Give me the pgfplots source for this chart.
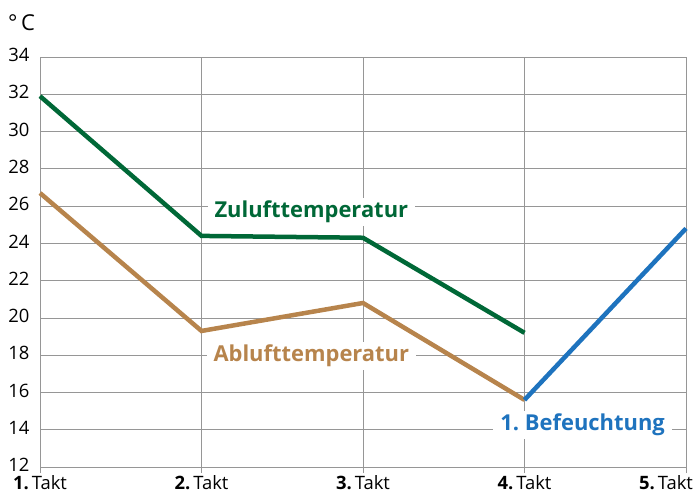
\documentclass[border=0pt]{standalone}
\usepackage{fontspec}
\setmainfont{Open Sans}
\usepackage{pgfplots}
\pgfplotsset{compat=1.18}
\definecolor{zgreen}{RGB}{0,104,55}
\definecolor{abrown}{RGB}{183,132,76}
\definecolor{bblue}{RGB}{30,115,190}
\definecolor{gridgray}{RGB}{150,150,150}
\begin{document}
\begin{tikzpicture}
\path[use as bounding box] (-40bp,-28bp) rectangle (655bp,467bp);
\begin{axis}[
  scale only axis, width=646bp, height=410bp,
  xmin=1, xmax=5, ymin=12, ymax=34,
  axis x line=bottom, axis y line=left,
  axis line style={-, gridgray, line width=0.8bp},
  xtick={1,2,3,4,5},
  xticklabels={{\textbf{1.}\,Takt},{\textbf{2.}\,Takt},{\textbf{3.}\,Takt},{\textbf{4.}\,Takt},{\makebox[0pt][r]{\textbf{5.}\,Takt\kern-7bp}}},
  ytick={12,14,...,34},
  grid=major, major grid style={gridgray, line width=0.8bp},
  x tick style={gridgray, line width=0.8bp}, major tick length=6bp,
  tick align=outside,
  y tick style={draw=none},
  ticklabel style={font=\fontsize{18.5}{20}\selectfont},
  yticklabel style={yshift=2bp, xshift=-1bp},
  xticklabel style={yshift=1bp},
  /pgf/number format/assume math mode=true,
  clip=false,
]
\addplot[zgreen, line width=4.5bp] coordinates {(1,31.9) (2,24.4) (3,24.3) (4,19.2)};
\addplot[abrown, line width=4.5bp] coordinates {(1,26.7) (2,19.3) (3,20.8) (4,15.6)};
\addplot[bblue, line width=4.5bp] coordinates {(4,15.6) (5,24.8)};
\node[fill=white, inner xsep=7bp, inner ysep=3bp, text=zgreen, font=\fontsize{22}{24}\selectfont\bfseries] at (axis cs:2.68,25.7) {Zulufttemperatur};
\node[fill=white, inner xsep=7bp, inner ysep=3bp, text=abrown, font=\fontsize{22}{24}\selectfont\bfseries] at (axis cs:2.68,17.95) {Ablufttemperatur};
\node[fill=white, inner xsep=7bp, inner ysep=3bp, text=bblue, font=\fontsize{22}{24}\selectfont\bfseries] at (axis cs:4.36,14.25) {1.~Befeuchtung};
\end{axis}
\node[anchor=west, inner sep=0pt, font=\fontsize{22}{24}\selectfont] at (-32bp,444bp) {°\,C};
\end{tikzpicture}
\end{document}
